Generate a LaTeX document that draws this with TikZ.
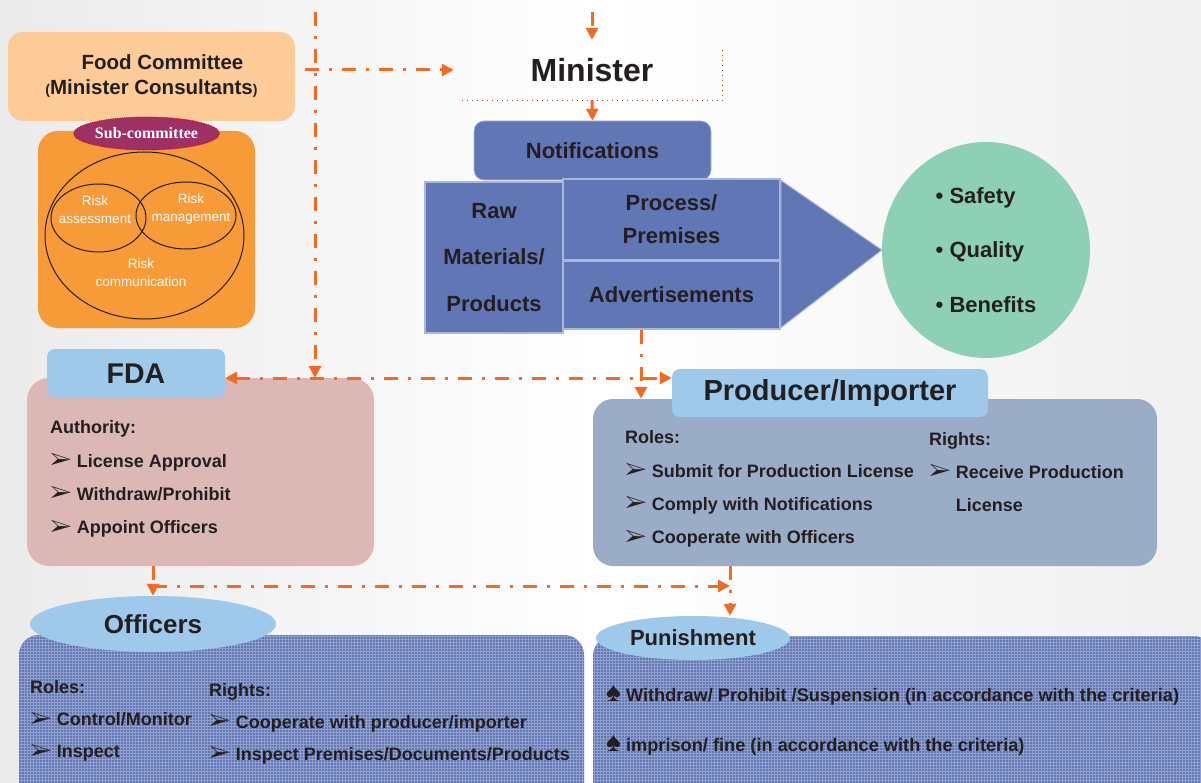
\documentclass[tikz,border=0pt]{standalone}
\usepackage{fontspec}
\usepackage{pifont}
\setmainfont{Liberation Sans}
\newfontfamily\subfont{Liberation Serif}
\usetikzlibrary{arrows.meta,shapes.geometric,patterns,positioning}

\definecolor{peach}{HTML}{FDCB98}
\definecolor{pumpkin}{HTML}{F79A38}
\definecolor{plum}{HTML}{9D3166}
\definecolor{steel}{HTML}{6176B4}
\definecolor{mint}{HTML}{8DD0B6}
\definecolor{sky}{HTML}{9FC9EB}
\definecolor{rose}{HTML}{DBB7B6}
\definecolor{slate}{HTML}{9BACC7}
\definecolor{flowc}{HTML}{F26B24}
\definecolor{ink}{HTML}{231F20}
\definecolor{edge}{HTML}{A9B7DD}

\newcommand{\arrowbul}{\raisebox{-0.5pt}{\scalebox{1.3}{\ding{226}}}\ }
\newcommand{\spadebul}{\scalebox{1.3}{\ding{171}}\ }
\newcommand{\fs}[2]{\fontsize{#1}{#2}\selectfont}

\tikzset{
  >={Triangle[length=12pt,width=12pt]},
  flow/.style={draw=flowc, line width=3pt, dash pattern=on 14pt off 10pt on 3pt off 10pt, ->},
  mindot/.style={draw=flowc!70!black, line width=1pt, dash pattern=on 1pt off 4pt},
  panel/.style={rectangle, rounded corners=20pt, inner sep=0pt},
  texture/.style={fill=steel, postaction={pattern=grid, pattern color=steel!70!white}},
  tab/.style={rectangle, rounded corners=8pt, fill=sky, inner sep=0pt, text=ink},
  head/.style={ellipse, fill=sky, inner sep=0pt, text=ink},
  block/.style={rectangle, fill=steel, draw=edge, line width=1.5pt, inner sep=0pt, font=\bfseries\fs{22}{46.5}, text=ink, align=center},
  listtext/.style={anchor=west, align=left, inner sep=0pt, font=\bfseries\fs{18}{33.3}, text=ink},
  risk/.style={font=\fs{13.5}{18}, text=white, align=center},
}

\begin{document}
\begin{tikzpicture}[x=1pt,y=-1pt]
\useasboundingbox (0,0) rectangle (1201,783);
\shade[left color=gray!16, right color=gray!12, middle color=white] (0,0) rectangle (1201,783);

% committee
\node[panel, fill=peach, rounded corners=15pt, minimum width=287pt, minimum height=89pt,
  font=\bfseries\fs{20.5}{25}, text=ink, align=center] (food) at (151.5,76.5)
  {\hspace*{22pt}Food Committee\\{\fs{14}{25}(}Minister Consultants{\fs{14}{25})}};
\node[panel, fill=pumpkin, minimum width=217pt, minimum height=197pt] (sub) at (146.5,229.5) {};
\draw[ink, line width=1pt] (144.5,235.5) ellipse [x radius=99.5, y radius=83.5];
\draw[ink, line width=1pt] (98.5,218) ellipse [x radius=47.5, y radius=34];
\draw[ink, line width=1pt] (186,215.5) ellipse [x radius=50, y radius=33.5];
\node[risk] (assess) at (95,210) {Risk\\assessment};
\node[risk] (manage) at (191,209) {Risk\\management};
\node[risk] (comm) at (141,273) {Risk\\communication};
\node[ellipse, fill=plum, draw=red!85!black, densely dotted, line width=0.8pt, inner sep=0pt,
  minimum width=129pt, minimum height=33pt, font=\subfont\bfseries\fs{16}{16}, text=white]
  (subhead) at (146.5,133.5) {Sub-committee};

% minister and notifications
\node[minimum width=260pt, minimum height=60pt, inner sep=0pt] (min) at (592,70) {};
\node[font=\bfseries\fs{32}{32}, text=ink] (mintext) at (min.center) {Minister};
\draw[mindot] (min.south west) -- (min.south east) -- ([yshift=-8pt]min.north east);
\node[rectangle, rounded corners=10pt, fill=steel, draw=edge, line width=0.6pt,
  minimum width=237pt, minimum height=59pt, font=\bfseries\fs{22}{22}, text=ink]
  (notif) at (592.5,150.5) {Notifications};
\node[block, minimum width=138pt, minimum height=151pt] (raw) at (494,257.5) {Raw\\Materials/\\Products};
\node[block, minimum width=217pt, minimum height=81pt, font=\bfseries\fs{22}{33}] (proc) at (671.5,219.5) {Process/\\Premises};
\node[block, minimum width=217pt, minimum height=68pt] (adv) at (671.5,295) {Advertisements};
\node[ellipse, fill=mint, minimum width=208pt, minimum height=216pt, inner sep=0pt,
  font=\bfseries\fs{22}{54.5}, text=ink, align=left] (goal) at (986,250)
  {\textbullet\ Safety\\\textbullet\ Quality\\\textbullet\ Benefits};
\filldraw[fill=steel, draw=edge, line width=1pt] ([yshift=-2pt]proc.north east) -- (goal.west) -- ([yshift=2pt]adv.south east) -- cycle;

% FDA
\node[panel, fill=rose, rounded corners=22pt, minimum width=347pt, minimum height=188pt] (fda) at (200.5,472) {};
\node[tab, minimum width=178pt, minimum height=49pt, font=\bfseries\fs{28.5}{28.5}] (fdatab) at (136,373.5) {FDA};
\node[listtext] (fdalist) at (50,479) {Authority:\\\arrowbul License Approval\\\arrowbul Withdraw/Prohibit\\\arrowbul Appoint Officers};

% producer
\node[panel, fill=slate, minimum width=564pt, minimum height=167pt] (prod) at (875,482.5) {};
\node[tab, minimum width=316pt, minimum height=48pt, font=\bfseries\fs{29}{29}] (prodtab) at (830,393) {Producer/Importer};
\node[listtext] (prodroles) at (625,489) {Roles:\\\arrowbul Submit for Production License\\\arrowbul Comply with Notifications\\\arrowbul Cooperate with Officers};
\node[listtext] (prodrights) at (929,472) {Rights:\\\arrowbul Receive Production\\\hphantom{\arrowbul}License};

% officers
\node[panel, texture, minimum width=565pt, minimum height=170pt] (off) at (301.5,720) {};
\node[head, minimum width=246pt, minimum height=56pt, font=\bfseries\fs{26}{26}] (offhead) at (153,624) {Officers};
\node[listtext, font=\bfseries\fs{18}{32}] (offroles) at (30,721) {Roles:\\\arrowbul Control/Monitor\\\arrowbul Inspect};
\node[listtext, font=\bfseries\fs{18}{32}] (offrights) at (209,723.5) {Rights:\\\arrowbul Cooperate with producer/importer\\\arrowbul Inspect Premises/Documents/Products};

% punishment
\node[panel, texture, minimum width=620pt, minimum height=170pt] (pun) at (903,721) {};
\node[head, minimum width=194pt, minimum height=44pt, font=\bfseries\fs{22}{22}] (punhead) at (693,638) {Punishment};
\node[listtext, font=\bfseries\fs{18.2}{50}] (punlist) at (606,720) {\spadebul Withdraw/ Prohibit /Suspension (in accordance with the criteria)\\\spadebul imprison/ fine (in accordance with the criteria)};

% connectors
\coordinate (topL) at (315,12);
\coordinate (topM) at (592,12);
\coordinate (hub) at (315,378);
\coordinate (lowhub) at (730,586);
\draw[flow] ([xshift=10pt]food.east |- min.west) -- ([xshift=-8pt]min.west);
\draw[flow] (topM) -- (min.north);
\draw[flow] (min.south) -- (notif.north);
\draw[flow] (topL) -- (hub);
\draw[flow, <->] (hub -| fdatab.east) -- (hub -| prodtab.west);
\draw[flow] ([xshift=-30.5pt]adv.south) -- ([xshift=-30.5pt]adv.south |- prod.north);
\draw[flow] (fda.south -| offhead.north) -- (offhead.north);
\draw[flow] (offhead.north |- lowhub) -- (lowhub);
\draw[flow] (prod.south -| lowhub) -- (lowhub |- punhead.north);
\end{tikzpicture}
\end{document}
